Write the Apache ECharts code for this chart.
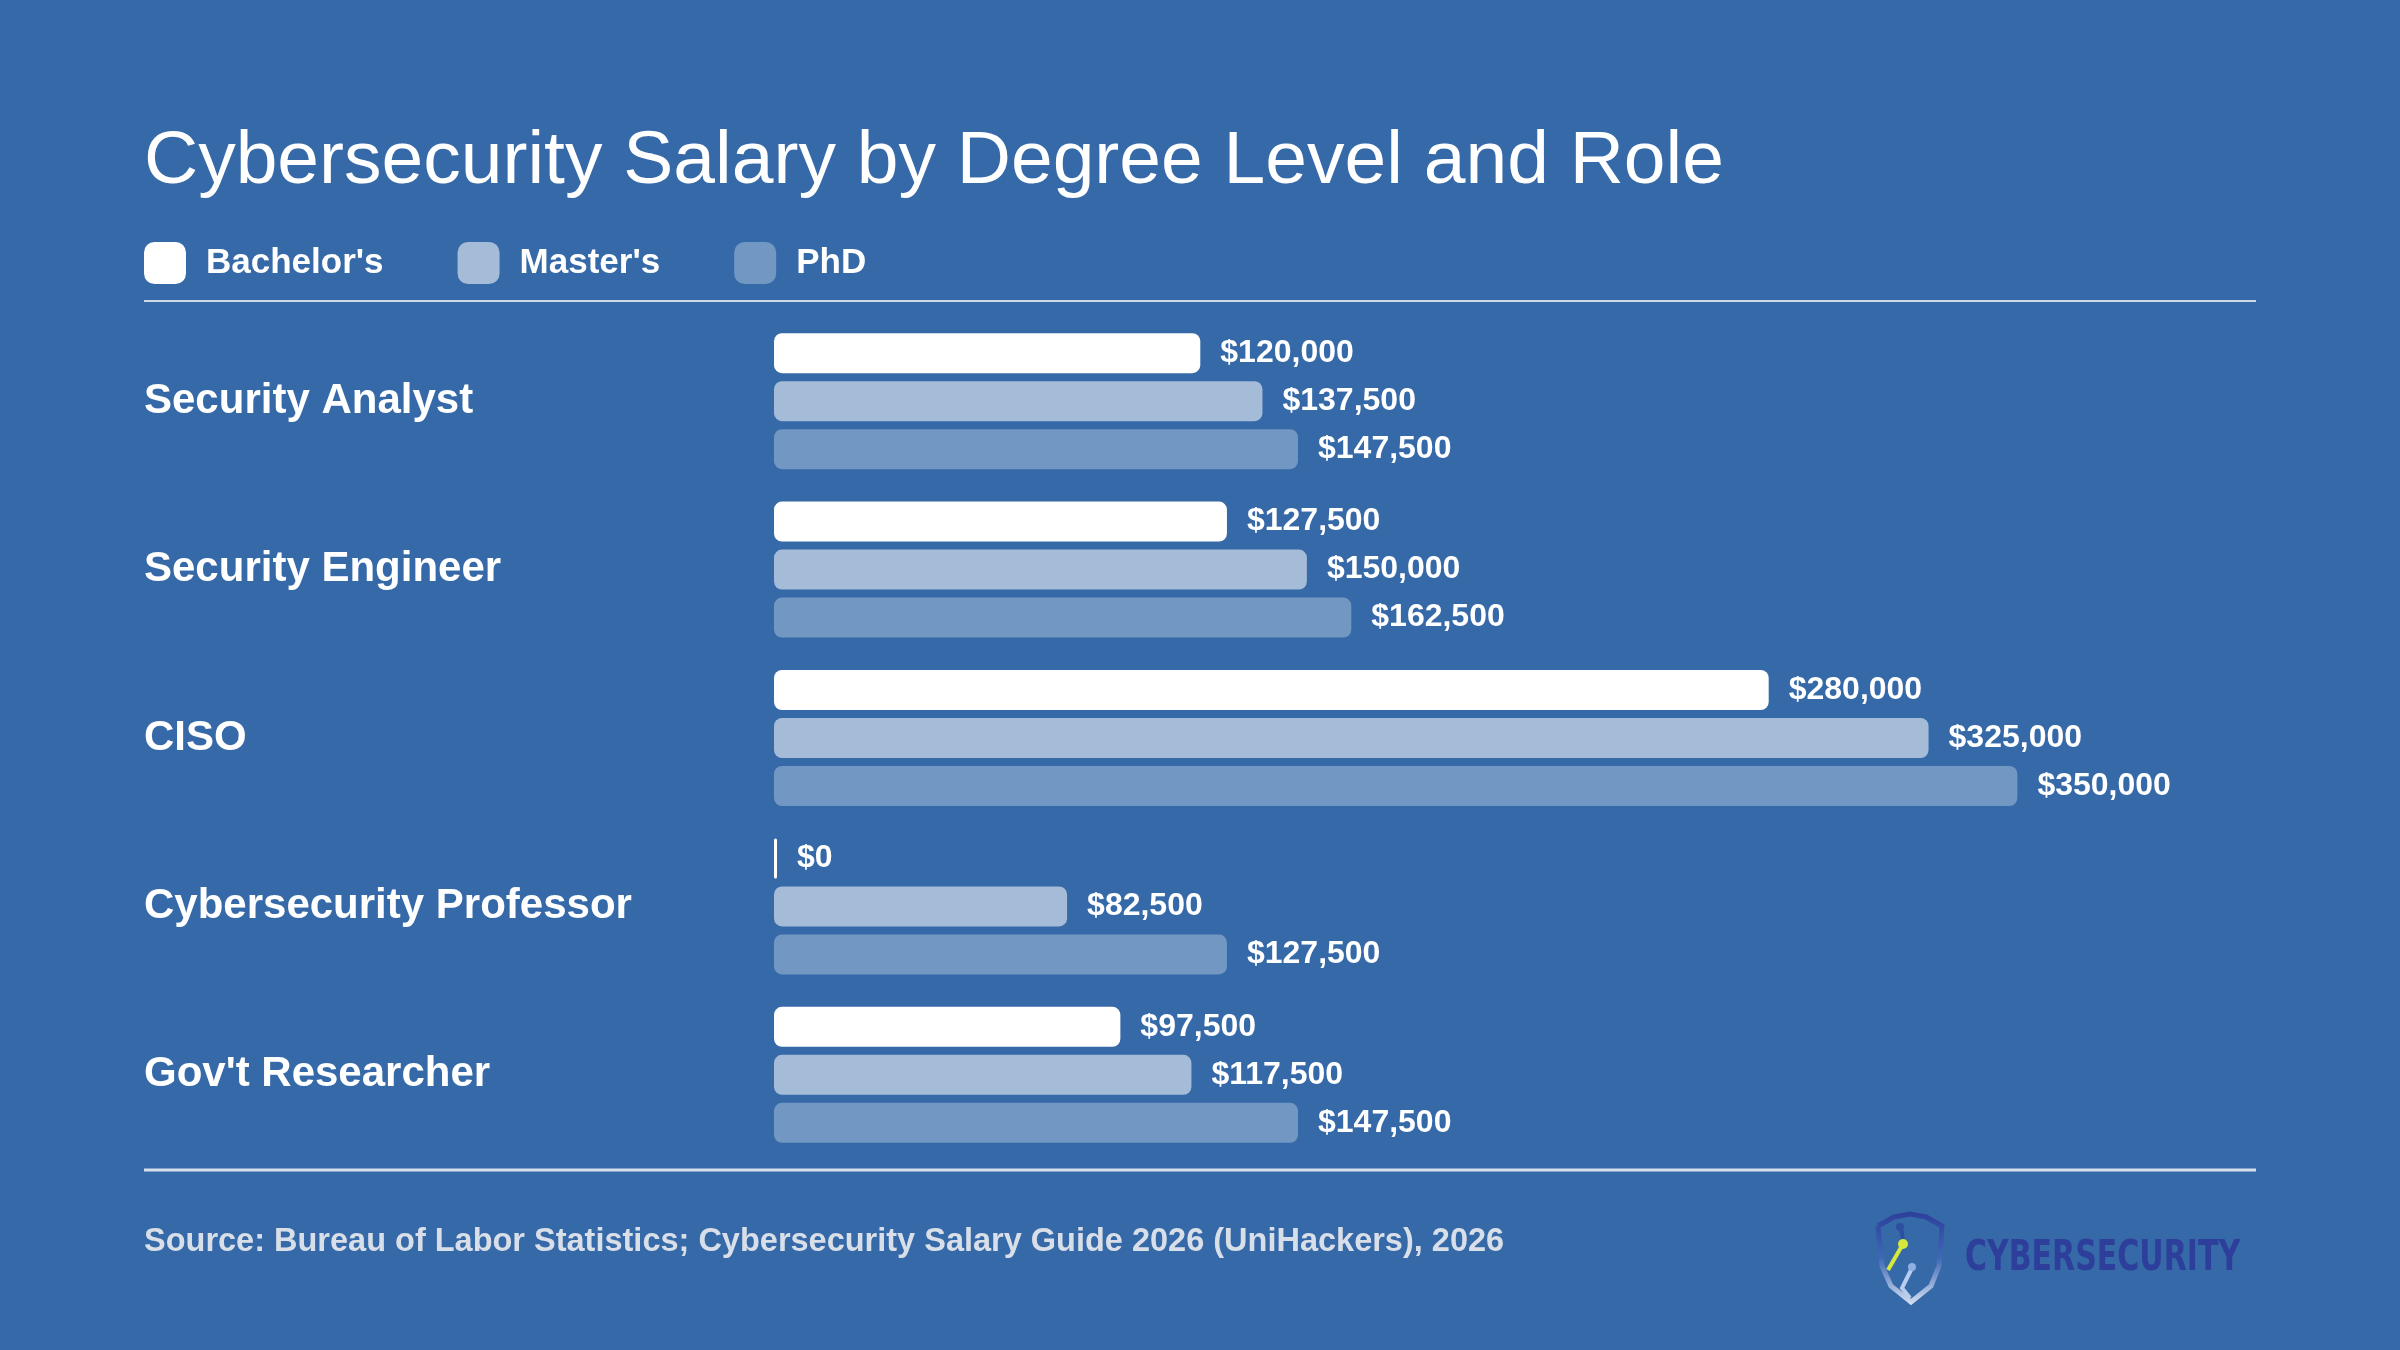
<!DOCTYPE html>
<html>
<head>
<meta charset="utf-8">
<script src="https://cdn.jsdelivr.net/npm/echarts@6/dist/echarts.min.js"></script>
<style>
  html, body { margin: 0; padding: 0; background: #3669a8; }
  #chart { width: 2400px; height: 1350px; }
</style>
</head>
<body>
<div id="chart"></div>
<script>
  // data
  var roles = ['Security Analyst', 'Security Engineer', 'CISO', 'Cybersecurity Professor', "Gov't Researcher"];
  var bachelors = [120000, 127500, 280000, 0, 97500];
  var masters = [137500, 150000, 325000, 82500, 117500];
  var phds = [147500, 162500, 350000, 127500, 147500];
  var seriesNames = ["Bachelor's", "Master's", 'PhD'];
  var seriesColors = ['#ffffff', '#a5bcd8', '#7297c3'];

  var FONT = "'Liberation Sans', Arial, Helvetica, sans-serif";

  var chart = echarts.init(document.getElementById('chart'));

  function money(v) {
    return '$' + Number(v).toLocaleString('en-US');
  }

  function makeSeries(name, values, color) {
    return {
      name: name,
      type: 'bar',
      data: values,
      barWidth: 40,
      barGap: '20%',
      barMinHeight: 3,
      itemStyle: { color: color, borderRadius: 8 },
      label: {
        show: true,
        position: 'right',
        distance: 20,
        formatter: function (p) { return money(p.value); },
        color: '#ffffff',
        fontSize: 32,
        fontWeight: 'bold',
        fontFamily: FONT
      },
      emphasis: { disabled: true }
    };
  }

  chart.setOption({
    backgroundColor: '#3669a8',
    animation: false,
    legend: {
      left: 144,
      top: 242,
      padding: 0,
      icon: 'roundRect',
      itemWidth: 42,
      itemHeight: 42,
      itemGap: 74,
      data: seriesNames,
      textStyle: {
        color: '#ffffff',
        fontSize: 35,
        fontWeight: 'bold',
        fontFamily: FONT,
        padding: [0, 0, 6, 15]
      }
    },
    grid: {
      left: 774,
      top: 317,
      height: 842,
      right: 205
    },
    xAxis: {
      type: 'value',
      min: 0,
      max: 400000,
      show: false
    },
    yAxis: {
      type: 'category',
      data: roles,
      inverse: true,
      axisLine: { show: false },
      axisTick: { show: false },
      axisLabel: {
        align: 'left',
        margin: 630,
        color: '#ffffff',
        fontSize: 42,
        fontWeight: 'bold',
        fontFamily: FONT
      }
    },
    series: [
      makeSeries(seriesNames[0], bachelors, seriesColors[0]),
      makeSeries(seriesNames[1], masters, seriesColors[1]),
      makeSeries(seriesNames[2], phds, seriesColors[2])
    ],
    graphic: [
      {
        type: 'text',
        left: 144,
        top: 125,
        style: {
          text: 'Cybersecurity Salary by Degree Level and Role',
          fill: '#ffffff',
          font: '75px ' + FONT
        }
      },
      {
        type: 'line',
        shape: { x1: 144, y1: 301, x2: 2256, y2: 301 },
        style: { stroke: '#cfd9e8', lineWidth: 2 }
      },
      {
        type: 'line',
        shape: { x1: 144, y1: 1170, x2: 2256, y2: 1170 },
        style: { stroke: '#d6dfec', lineWidth: 3 }
      },
      {
        type: 'text',
        left: 144,
        top: 1226,
        style: {
          text: 'Source: Bureau of Labor Statistics; Cybersecurity Salary Guide 2026 (UniHackers), 2026',
          fill: '#d9dfe9',
          font: 'bold 32.5px ' + FONT
        }
      },
      // logo: shield + wordmark
      {
        type: 'polyline',
        shape: {
          points: [[1878, 1226], [1894, 1217], [1910, 1214], [1926, 1217], [1942, 1226],
                   [1939, 1266], [1931, 1286], [1911, 1302], [1891, 1286], [1882, 1266], [1878, 1226]]
        },
        style: {
          fill: 'none',
          lineWidth: 5,
          stroke: new echarts.graphic.LinearGradient(0, 0, 0, 1, [
            { offset: 0, color: '#2d3f9a' },
            { offset: 0.5, color: '#3f68b6' },
            { offset: 1, color: '#d4e0f2' }
          ])
        }
      },
      {
        type: 'polyline',
        shape: { points: [[1901, 1228], [1903, 1240]] },
        style: { stroke: '#2d4fa0', lineWidth: 4 }
      },
      {
        type: 'circle',
        shape: { cx: 1900, cy: 1227, r: 4 },
        style: { fill: '#2d4fa0' }
      },
      {
        type: 'polyline',
        shape: { points: [[1903, 1244], [1888, 1270]] },
        style: { stroke: '#d6e83a', lineWidth: 4 }
      },
      {
        type: 'circle',
        shape: { cx: 1903, cy: 1244, r: 5 },
        style: { fill: '#d6e83a' }
      },
      {
        type: 'polyline',
        shape: { points: [[1912, 1268], [1902, 1288], [1910, 1298]] },
        style: { stroke: '#b8cdee', lineWidth: 4 }
      },
      {
        type: 'circle',
        shape: { cx: 1912, cy: 1267, r: 4 },
        style: { fill: '#8fb0e3' }
      },
      {
        type: 'text',
        x: 1965,
        y: 1259,
        scaleY: 1.4,
        style: {
          x: 0,
          y: 0,
          text: 'CYBERSECURITY',
          fill: '#2d3f9a',
          font: 'bold 30px "DejaVu Sans", sans-serif',
          verticalAlign: 'middle'
        }
      }
    ]
  });
</script>
</body>
</html>
